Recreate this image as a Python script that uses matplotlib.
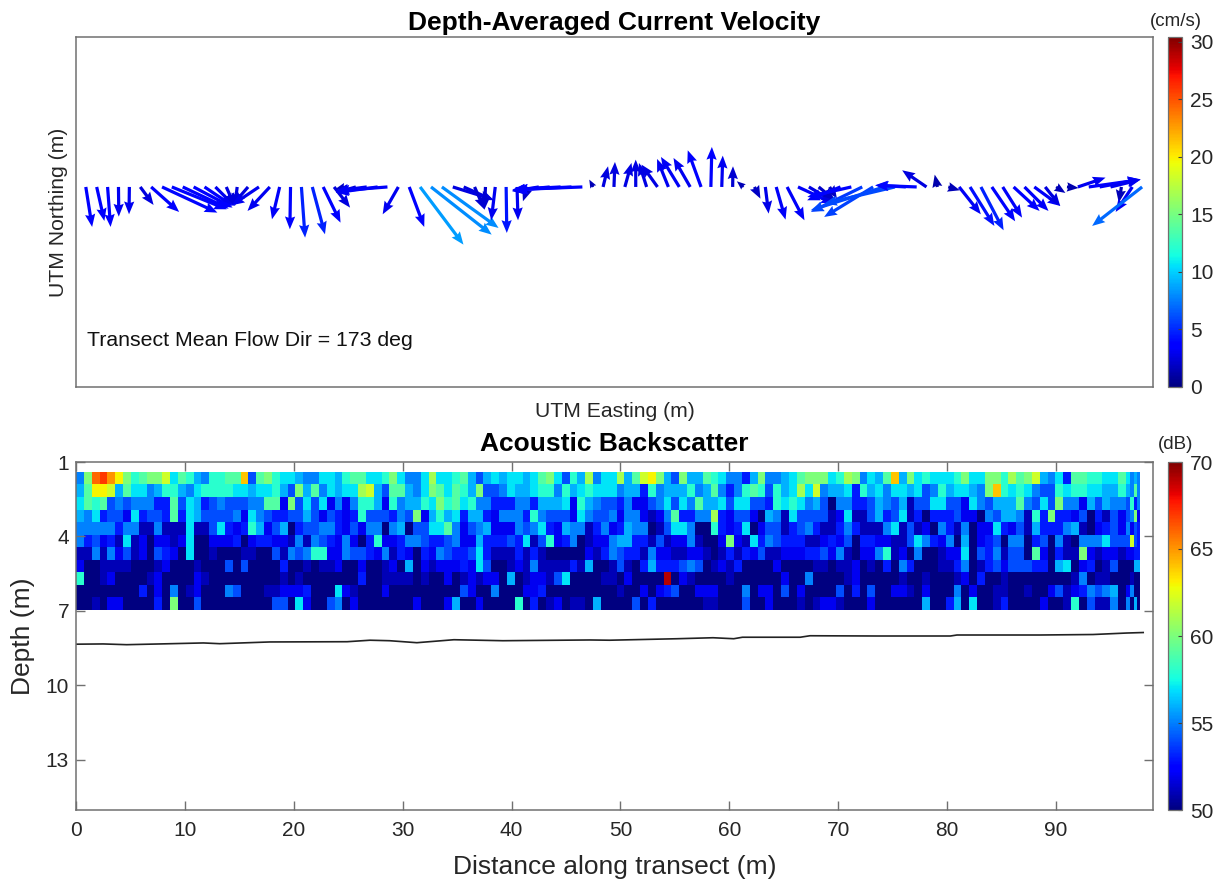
import matplotlib
matplotlib.use("Agg")
import matplotlib.pyplot as plt
import numpy as np

plt.rcParams["font.family"] = ["Liberation Sans", "DejaVu Sans"]

# current arrows, u/v in 1/3 pixel units
arrow_x = [0.9, 1.9, 2.9, 3.9, 4.9, 5.9, 6.9, 7.9, 8.8, 9.8,
           10.8, 11.8, 12.8, 13.8, 14.8, 15.8, 16.8, 17.8, 18.7, 19.7,
           20.7, 21.7, 22.7, 23.7, 24.7, 25.7, 26.7, 27.7, 28.6, 29.6,
           30.6, 31.6, 32.6, 33.6, 34.6, 35.6, 36.6, 37.6, 38.5, 39.5,
           40.5, 41.5, 42.5, 43.5, 44.5, 45.5, 46.5, 47.5, 48.4, 49.4,
           50.4, 51.4, 52.4, 53.4, 54.4, 55.4, 56.4, 57.4, 58.3, 59.3,
           60.3, 61.3, 62.3, 63.3, 64.3, 65.3, 66.3, 67.3, 68.2, 69.2,
           70.2, 71.2, 72.2, 73.2, 74.2, 75.2, 76.2, 77.2, 78.1, 79.1,
           80.1, 81.1, 82.1, 83.1, 84.1, 85.1, 86.1, 87.1, 88.0, 89.0,
           90.0, 91.0, 92.0, 93.0, 94.0, 95.0, 96.0, 97.0, 97.9]
arrow_u = [19, 23, 9, 1, -1, 40, 84, 166, 165, 138,
           117, 85, 57, 25, -7, -45, -82, -67, -23, -2,
           11, 38, 52, 48, -30, -60, -93, -125, -152, -47,
           45, 130, 182, 170, 122, 90, 30, -3, -12, 2,
           3, -15, -80, -113, -145, -170, -202, -12, 15, 3,
           20, 0, -23, -48, -34, -55, -50, -40, 3, 3,
           1, -20, 18, 10, 28, 52, 108, 76, 49, 22,
           -100, -132, -154, -147, -220, -212, -90, -125, -73, -8,
           35, 65, 73, 68, 70, 58, 78, 72, 78, 45,
           28, 35, 83, 155, 123, 90, -8, -50, -150]
arrow_v = [-120, -102, -120, -89, -82, -54, -75, -77, -67, -65,
           -62, -57, -57, -57, -57, -52, -55, -72, -97, -127,
           -152, -142, -107, -62, -7, -17, -12, -17, -12, -82,
           -120, -173, -143, -123, -38, -40, -68, -68, -100, -138,
           -100, -43, -13, -11, -8, -8, -8, 22, 62, 75,
           72, 82, 72, 67, 84, 90, 87, 110, 120, 94,
           62, 17, -35, -80, -98, -100, -50, -45, -40, -35,
           -40, -30, -75, -90, -70, -50, 5, 5, 50, 37,
           -10, -82, -117, -130, -103, -92, -72, -72, -57, -57,
           -18, -3, 28, 22, 23, 22, -47, -75, -117]
arrow_speed = [3.5, 3.5, 3.5, 3, 3, 2.5, 3.5, 4, 4, 3.8,
               3.5, 3.5, 3, 2.5, 2.5, 2.5, 3, 3, 3.3, 3.8,
               4.8, 4.8, 3.5, 2.5, 2, 2.5, 3, 3.3, 3.3, 3,
               3.5, 8.5, 8, 8, 2.5, 2.5, 2.2, 2.2, 3, 4.5,
               3, 2, 3, 3.3, 3.5, 3.5, 3.5, 1.5, 2.5, 2.5,
               2.7, 2.7, 2.7, 2.7, 3, 3.2, 3, 3.5, 3.7, 3,
               2.2, 1.5, 1.8, 2.8, 3.3, 3.3, 3.3, 2.7, 2, 1.8,
               3.3, 3.8, 5.5, 5.8, 6, 6, 4.8, 4, 2.5, 1.3,
               1.5, 3.2, 4.2, 4.8, 3.8, 3.3, 3.5, 3.3, 3.3, 2.6,
               1.5, 1.3, 3, 3.7, 3.3, 3, 1.5, 3.2, 7]

# backscatter in dB, one list per depth bin
bs_01 = [55,60,66,67,65,63,60,58,59,60,60,62,57,59,58,56,55,58,58,59,59,64,54,59,60,58,57,57,56,55,55,57,57,56,58,59,59,57,57,58,60,57,55,55,57,
         61,57,57,58,59,56,54,56,57,56,57,57,56,57,59,60,57,54,58,56,61,55,57,57,61,56,59,62,63,60,56,54,60,56,56,59,58,57,55,55,53,56,60,55,55,56,
         57,59,60,60,60,57,58,61,60,55,57,56,59,64,56,60,57,58,57,57,57,58,60,57,57,60,60,58,61,59,60,62,56,55,57,53,59,59,58,58,57,57,59,57,55,56,55]
bs_02 = [56,59,63,63,62,56,59,57,57,55,56,58,58,56,55,57,58,58,58,58,57,57,56,57,57,58,56,54,60,56,59,55,57,56,57,57,61,62,56,54,59,59,56,55,57,
         60,59,57,59,58,56,60,54,54,55,57,56,56,57,58,58,55,58,56,57,58,57,57,57,55,56,56,53,58,55,56,56,56,58,55,56,59,55,53,55,58,59,58,54,58,56,
         57,61,57,62,55,56,56,57,53,58,56,57,55,57,57,56,57,54,55,58,56,57,57,56,55,60,64,58,57,58,57,55,54,54,58,57,58,58,57,57,56,56,58,56,55,59,55]
bs_03 = [57,59,58,59,54,55,54,55,55,55,53,53,59,54,57,56,53,54,55,54,54,54,55,55,59,59,52,60,54,57,54,57,52,55,52,55,58,58,56,52,58,55,56,56,58,
         57,60,58,59,57,58,55,55,53,53,53,55,55,53,56,56,56,57,52,58,56,55,54,54,53,55,52,52,54,55,57,54,57,55,59,56,56,57,54,57,57,54,54,53,58,57,
         58,57,55,56,54,50,55,55,53,53,54,56,55,54,56,51,54,54,57,57,54,54,52,57,55,54,56,56,56,59,55,54,57,54,60,55,55,52,56,54,56,55,55,54,58,53,55]
bs_04 = [56,55,57,53,54,54,52,57,53,54,54,53,59,53,57,56,54,54,54,54,55,52,57,55,54,53,53,54,54,56,54,52,54,53,52,53,58,54,54,54,53,55,54,60,52,
         56,58,56,57,53,56,56,53,52,55,55,55,53,58,55,54,54,54,52,57,55,54,54,55,52,55,55,52,51,52,55,59,53,53,55,55,61,53,52,54,54,52,50,56,55,51,
         57,54,54,54,54,51,52,57,51,51,54,56,53,54,57,51,53,50,53,53,53,54,52,52,50,55,54,56,56,55,51,58,53,60,53,53,52,54,50,53,51,54,52,54,55,60,52]
bs_05 = [55,55,55,55,55,53,55,55,51,51,55,51,51,51,57,51,51,54,57,53,52,53,58,56,52,54,56,50,53,54,54,55,55,53,52,54,52,55,55,50,55,56,50,54,54,
         57,57,59,55,52,54,55,56,52,52,52,55,54,55,57,53,52,56,55,55,51,53,55,52,53,56,55,55,50,51,54,57,57,55,50,50,58,53,52,53,57,50,52,54,54,51,
         53,54,55,53,51,51,53,55,53,51,51,51,55,57,51,54,51,52,50,55,53,51,55,50,52,52,57,53,52,54,51,56,53,53,53,55,56,51,50,52,53,54,52,55,52,54,53]
bs_06 = [55,53,54,52,53,51,57,51,52,50,52,52,51,52,57,50,50,52,52,52,53,50,52,53,53,52,52,51,55,51,55,54,53,52,55,52,50,53,58,52,52,53,55,55,54,
         53,53,54,55,52,52,56,53,53,53,54,53,57,51,54,58,52,53,55,50,51,52,52,55,56,56,53,53,51,54,51,52,52,55,51,50,50,52,60,52,51,57,53,55,54,53,
         53,53,51,51,52,53,52,54,50,53,53,52,52,51,51,54,57,55,53,52,55,50,56,50,52,53,54,50,55,55,50,53,54,50,55,51,50,55,55,55,57,54,54,54,62,54,53]
bs_07 = [51,51,55,51,55,52,54,51,52,50,54,53,52,50,57,50,50,51,50,50,50,51,51,50,50,54,51,55,54,55,58,58,52,52,55,54,54,53,52,55,51,53,52,50,53,
         52,55,54,53,53,54,57,53,51,51,51,53,51,53,51,50,50,50,50,50,52,51,53,55,54,53,53,51,55,52,52,51,51,52,52,51,50,51,53,51,53,52,54,51,51,52,
         52,52,53,53,54,52,55,51,50,52,52,55,58,51,52,50,55,50,50,51,52,52,57,50,54,53,55,51,54,54,50,59,52,50,53,51,51,60,52,51,52,52,51,52,52,53,53]
bs_08 = [52,50,50,51,51,51,51,50,50,50,51,52,50,50,50,51,50,50,50,54,50,54,50,50,50,50,53,50,50,51,50,51,51,52,50,50,52,50,50,51,52,50,56,50,52,
         51,52,52,52,53,52,57,54,50,50,51,52,51,55,51,51,51,51,53,51,56,50,50,51,54,51,50,53,56,53,53,53,54,55,54,50,51,52,51,53,50,50,50,50,52,50,
         50,50,50,51,51,50,51,51,52,50,51,50,53,50,55,53,50,50,50,51,51,53,55,50,51,53,54,52,54,54,54,53,53,50,56,57,50,52,53,50,51,54,50,50,50,56,56]
bs_09 = [58,50,50,51,52,50,50,50,50,51,52,50,50,50,50,52,51,50,50,50,50,50,50,50,50,50,51,50,51,50,50,50,50,50,50,50,53,50,50,51,51,51,51,50,51,
         50,50,52,50,51,52,51,52,52,50,56,50,51,52,52,51,54,57,50,50,50,50,51,51,50,52,50,50,50,50,69,50,52,51,50,50,50,50,51,50,50,50,50,50,50,52,
         50,50,55,50,50,50,50,51,52,50,50,50,50,50,51,50,50,51,50,50,50,51,52,50,53,50,50,51,50,50,50,50,50,50,50,50,51,55,50,51,51,50,50,50,51,50,50]
bs_10 = [50,50,50,50,50,50,50,50,53,50,52,50,55,50,51,52,50,50,50,55,54,50,50,50,51,51,52,52,52,53,50,50,50,57,52,51,50,50,50,52,50,50,50,50,50,
         50,50,50,50,54,52,50,50,55,50,50,50,52,52,53,50,50,50,50,50,50,50,50,50,51,50,50,52,50,52,53,54,50,50,52,52,52,50,50,50,55,50,52,52,50,54,
         50,52,50,50,50,50,54,50,53,50,54,50,50,52,52,51,50,52,50,50,50,55,50,52,50,50,51,51,50,50,51,50,50,52,54,51,52,53,55,54,55,56,50,52,55,50,50]
bs_11 = [50,50,51,50,52,52,50,50,50,50,53,50,60,50,50,54,50,50,50,50,50,50,50,50,50,54,54,50,57,52,50,50,54,55,50,52,50,50,50,50,50,50,50,52,50,
         50,50,52,56,50,50,52,50,50,50,50,58,50,53,50,51,52,50,51,51,50,56,50,50,50,50,54,50,53,50,50,50,50,50,50,51,51,50,50,50,54,50,50,52,50,50,
         50,51,50,51,52,52,51,50,50,50,52,50,50,50,50,50,50,56,50,50,53,56,50,57,50,50,51,53,50,50,50,50,52,50,50,51,58,50,54,51,51,55,50,55,50,56,50]

depth_edges = [1.4, 1.905, 2.41, 2.92, 3.42, 3.93, 4.43, 4.94, 5.44, 5.95, 6.45, 6.96]
# last few ensembles are closer together
tail_edges = [96.8, 97.15, 97.45, 97.75]

bottom_dist = [0.0, 2.5, 4.65, 7.7, 11.7, 13.2, 17.8, 24.9, 27.0, 28.8, 31.3, 34.7, 39.2, 47.2,
               49.0, 55.2, 58.5, 60.4, 61.2, 66.5, 67.4, 73.5, 80.3, 80.9, 85.8, 88.5, 93.4, 96.5, 98.0]
bottom_depth = [8.34, 8.33, 8.36, 8.33, 8.29, 8.32, 8.25, 8.24, 8.18, 8.2, 8.28, 8.16, 8.2, 8.17,
                8.18, 8.12, 8.08, 8.12, 8.06, 8.06, 8.0, 8.01, 8.01, 7.97, 7.97, 7.97, 7.95, 7.89, 7.87]

W, H = 1228, 888
GREY = "#707070"
TXT = "#262626"


def px_axes(x0, y0, x1, y1):
    return fig.add_axes([x0 / W, 1 - y1 / H, (x1 - x0) / W, (y1 - y0) / H])


def style_box(ax):
    for s in ax.spines.values():
        s.set_color(GREY)
        s.set_linewidth(1.1)


def add_cbar(mesh, cax, ticks, unit, unit_y):
    cb = fig.colorbar(mesh, cax=cax, ticks=ticks)
    cb.ax.tick_params(direction="in", length=3, width=0.8, color="#404040", labelsize=15,
                      labelcolor=TXT, pad=6)
    cb.outline.set_edgecolor(GREY)
    cb.outline.set_linewidth(0.9)
    fig.text(1176 / W, 1 - unit_y / H, unit, fontsize=13.5, color=TXT, ha="center", va="center")


fig = plt.figure(figsize=(W / 100, H / 100), dpi=100)

# top panel
ax1 = px_axes(76, 37, 1153, 387)
ax1.set_xlim(0, 98.9)
ax1.set_ylim(0, 32.14)
arrows = ax1.quiver(arrow_x, np.full(len(arrow_x), 18.37), arrow_u, arrow_v, arrow_speed,
                    cmap="jet", clim=(0, 30.4), angles="xy", scale_units="xy", scale=32.67,
                    units="dots", width=3.2, headwidth=3.2, headlength=4.0, headaxislength=3.6)
ax1.set_xticks([])
ax1.set_yticks([])
style_box(ax1)
ax1.set_title("Depth-Averaged Current Velocity", fontsize=19, fontweight="bold", pad=5)
ax1.set_xlabel("UTM Easting (m)", fontsize=15.2, color=TXT, labelpad=11)
ax1.set_ylabel("UTM Northing (m)", fontsize=15.2, color=TXT, labelpad=6)
ax1.text(0.0103, 0.134, "Transect Mean Flow Dir = 173 deg", transform=ax1.transAxes,
         fontsize=15.3, color="#111111", va="center")

# bottom panel
backscatter = np.array([bs_01, bs_02, bs_03, bs_04, bs_05, bs_06, bs_07, bs_08, bs_09, bs_10, bs_11])
dist_edges = np.r_[np.arange(135) * 0.7195, tail_edges]
ax2 = px_axes(76, 462, 1153, 810)
mesh = ax2.pcolormesh(dist_edges, depth_edges, backscatter, cmap="jet", vmin=50, vmax=70)
ax2.plot(bottom_dist, bottom_depth, color="#222222", lw=1.2)
ax2.set_xlim(0, 98.9)
ax2.set_ylim(15.02, 1)
ax2.set_xticks(range(0, 100, 10))
ax2.set_yticks([1, 4, 7, 10, 13])
ax2.tick_params(direction="in", top=True, right=True, length=6.5, width=1.0, color=GREY,
                labelsize=15, labelcolor=TXT, pad=5)
ax2.tick_params(axis="x", pad=8)
style_box(ax2)
ax2.set_title("Acoustic Backscatter", fontsize=19, fontweight="bold", pad=8)
ax2.set_xlabel("Distance along transect (m)", fontsize=19, color=TXT, labelpad=11)
ax2.set_ylabel("Depth (m)", fontsize=19, color=TXT, labelpad=8)

# colour bars
cax1 = px_axes(1168, 37, 1182, 387)
add_cbar(arrows, cax1, range(0, 31, 5), "(cm/s)", 21)
cax2 = px_axes(1168, 462, 1182, 810)
add_cbar(mesh, cax2, range(50, 71, 5), "(dB)", 444)

fig.savefig("out.png", dpi=100)
